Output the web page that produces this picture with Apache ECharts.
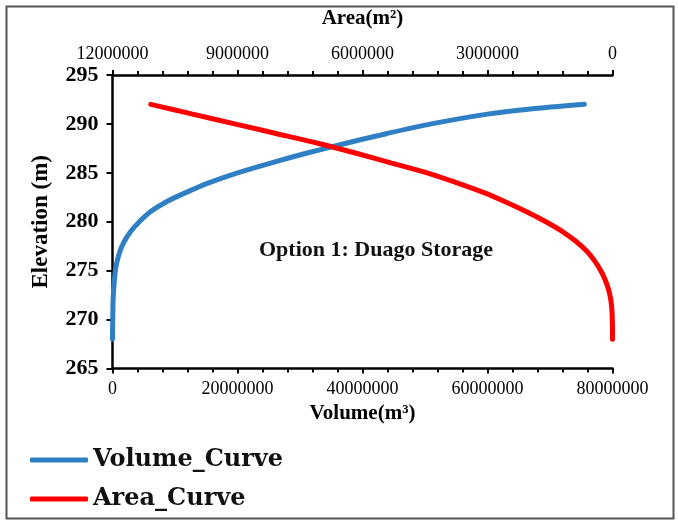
<!DOCTYPE html>
<html>
<head>
<meta charset="utf-8">
<script src="https://cdn.jsdelivr.net/npm/echarts@6/dist/echarts.min.js"></script>
<style>
html,body{margin:0;padding:0;background:#fff;}
#c{width:678px;height:520px;}
</style>
</head>
<body>
<div id="c"></div>
<script>
// Elevation (m)
const elevation = [268,269,270,271,272,273,274,275,276,277,278,279,280,281,282,283,284,285,286,287,288,289,290,291,291.5,292];
// Volume (m3), bottom axis
const volume = [0,10000,30000,60000,100000,180000,300000,450000,750000,1200000,1900000,2900000,4300000,6000000,8500000,11800000,15500000,20000000,25300000,31000000,37200000,43800000,51000000,60000000,66500000,75500000];
// Area (m2), top axis (reversed)
const area = [0,0,5000,15000,40000,90000,170000,280000,430000,620000,880000,1200000,1600000,2050000,2550000,3100000,3750000,4450000,5300000,6150000,7050000,8050000,9070000,10080000,10580000,11080000];

const volTicks = [0,20000000,40000000,60000000,80000000];
const areaTicks = [0,3000000,6000000,9000000,12000000];
const elevTicks = [265,270,275,280,285,290,295];

const volumeData = elevation.map((h,i)=>[volume[i],h]);
const areaData = elevation.map((h,i)=>[area[i],h]);

const serif = 'Liberation Serif';
const chart = echarts.init(document.getElementById('c'));

const axisLine = {show:true, onZero:false, lineStyle:{color:'#000', width:2.5}};
chart.setOption({
  animation:false,
  backgroundColor:'#fff',
  grid:{left:112.5, right:65.5, top:75, bottom:151.5, containLabel:false},
  legend:{
    orient:'vertical', left:30, top:448, padding:0,
    itemWidth:58, itemHeight:5, itemGap:15,
    icon:'roundRect',
    textStyle:{fontFamily:'DejaVu Serif', fontWeight:'bold', fontSize:24, color:'#111', lineHeight:24},
    data:['Volume_Curve','Area_Curve']
  },
  xAxis:[
    {
      type:'value', position:'bottom', min:volTicks[0], max:volTicks[volTicks.length-1], interval:20000000,
      axisLine:axisLine,
      axisTick:{show:true, inside:false, length:5, lineStyle:{color:'#000', width:2}},
      minorTick:{show:true, splitNumber:5, length:4, lineStyle:{color:'#000', width:2}},
      splitLine:{show:false}, minorSplitLine:{show:false},
      axisLabel:{fontFamily:serif, fontSize:18, color:'#000', margin:12, formatter:v=>String(v)},
      name:'Volume(m³)', nameLocation:'middle', nameGap:34,
      nameTextStyle:{fontFamily:serif, fontWeight:'bold', fontSize:21, color:'#000'}
    },
    {
      type:'value', position:'top', inverse:true, min:areaTicks[0], max:areaTicks[areaTicks.length-1], interval:3000000,
      axisLine:axisLine,
      axisTick:{show:true, inside:false, length:5, lineStyle:{color:'#000', width:2}},
      minorTick:{show:true, splitNumber:5, length:4, lineStyle:{color:'#000', width:2}},
      splitLine:{show:false}, minorSplitLine:{show:false},
      axisLabel:{fontFamily:serif, fontSize:18, color:'#000', margin:12, formatter:v=>String(v)},
      name:'Area(m²)', nameLocation:'middle', nameGap:46,
      nameTextStyle:{fontFamily:serif, fontWeight:'bold', fontSize:21, color:'#000'}
    }
  ],
  yAxis:{
    type:'value', min:elevTicks[0], max:elevTicks[elevTicks.length-1], interval:5,
    axisLine:axisLine,
    axisTick:{show:true, inside:false, length:6, lineStyle:{color:'#000', width:2}},
    splitLine:{show:false},
    axisLabel:{fontFamily:serif, fontWeight:'bold', fontSize:22, color:'#000', margin:14},
    name:'Elevation (m)', nameLocation:'middle', nameGap:60, nameRotate:90,
    nameTextStyle:{fontFamily:serif, fontWeight:'bold', fontSize:23, color:'#000'}
  },
  series:[
    {
      name:'Volume_Curve', type:'line', xAxisIndex:0, data:volumeData,
      showSymbol:false, smooth:0.3, color:'#2f7fc4',
      lineStyle:{width:5, color:'#2f7fc4', cap:'round'}
    },
    {
      name:'Area_Curve', type:'line', xAxisIndex:1, data:areaData,
      showSymbol:false, smooth:0.3, color:'#ff0000',
      lineStyle:{width:5, color:'#ff0000', cap:'round'}
    }
  ],
  graphic:[
    {type:'rect', left:4, top:4, shape:{width:667, height:512}, style:{fill:'none', stroke:'#555', lineWidth:2}, silent:true, z:-1},
    {type:'text', left:259, top:239, style:{text:'Option 1: Duago Storage', fontFamily:serif, fontWeight:'bold', fontSize:22, fill:'#111'}}
  ]
});
</script>
</body>
</html>
